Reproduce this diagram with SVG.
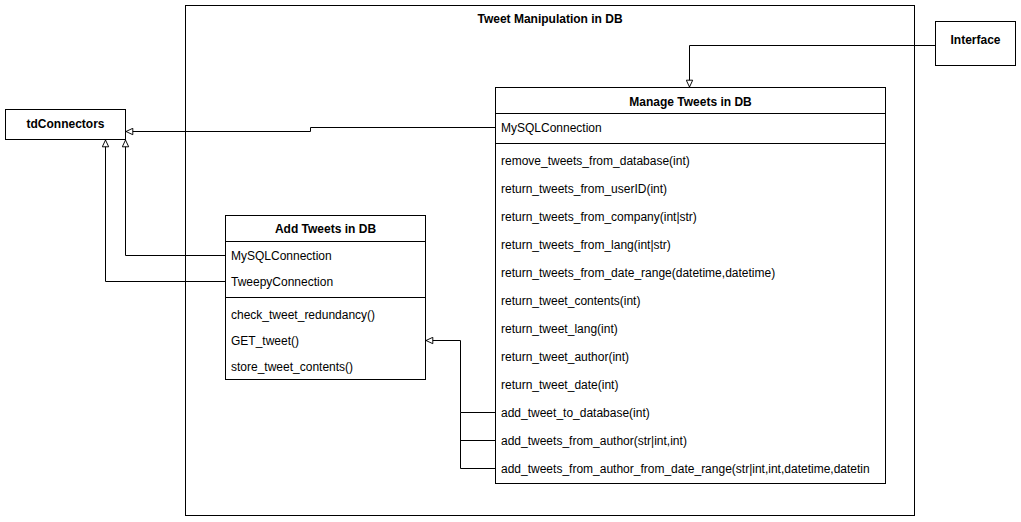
<svg xmlns="http://www.w3.org/2000/svg" width="1021" height="522" viewBox="0 0 1021 522">
<style>
.box{fill:#fff;stroke:#000;stroke-width:1}
.ln{fill:none;stroke:#000;stroke-width:1}
text{font-family:"Liberation Sans",Arial,sans-serif;font-size:12px;fill:#000}
.b{font-weight:bold;text-anchor:middle}
</style>
<defs>
<marker id="tri" viewBox="0 0 10 10" refX="9.5" refY="5" markerWidth="8" markerHeight="8" markerUnits="userSpaceOnUse" orient="auto">
<path d="M1,1 L9.5,5 L1,9 Z" fill="#fff" stroke="#000" stroke-width="1.2"/>
</marker>
</defs>
<rect width="1021" height="522" fill="#fff"/>
<g id="frame">
<rect class="box" x="185.5" y="5.5" width="729" height="510"/>
<text class="b" x="550" y="23">Tweet Manipulation in DB</text>
</g>
<g id="interface">
<rect class="box" x="935.5" y="21.5" width="80" height="44"/>
<text class="b" x="975.5" y="44">Interface</text>
</g>
<g id="tdConnectors">
<rect class="box" x="5.5" y="109.5" width="120" height="30"/>
<text class="b" x="65.5" y="128">tdConnectors</text>
</g>
<g id="manage">
<rect class="box" x="495.5" y="87.5" width="390" height="396"/>
<line class="ln" x1="495.5" y1="113.5" x2="885.5" y2="113.5"/>
<line class="ln" x1="495.5" y1="143.5" x2="885.5" y2="143.5"/>
<text class="b" x="690.5" y="106">Manage Tweets in DB</text>
<text x="501" y="132">MySQLConnection</text>
<text x="501" y="165">remove_tweets_from_database(int)</text>
<text x="501" y="193">return_tweets_from_userID(int)</text>
<text x="501" y="221">return_tweets_from_company(int|str)</text>
<text x="501" y="249">return_tweets_from_lang(int|str)</text>
<text x="501" y="277">return_tweets_from_date_range(datetime,datetime)</text>
<text x="501" y="305">return_tweet_contents(int)</text>
<text x="501" y="333">return_tweet_lang(int)</text>
<text x="501" y="361">return_tweet_author(int)</text>
<text x="501" y="389">return_tweet_date(int)</text>
<text x="501" y="417">add_tweet_to_database(int)</text>
<text x="501" y="445">add_tweets_from_author(str|int,int)</text>
<text x="501" y="473">add_tweets_from_author_from_date_range(str|int,int,datetime,datetin</text>
</g>
<g id="add">
<rect class="box" x="225.5" y="215.5" width="200" height="164"/>
<line class="ln" x1="225.5" y1="241.5" x2="425.5" y2="241.5"/>
<line class="ln" x1="225.5" y1="297.5" x2="425.5" y2="297.5"/>
<text class="b" x="325.5" y="233">Add Tweets in DB</text>
<text x="231" y="260">MySQLConnection</text>
<text x="231" y="286">TweepyConnection</text>
<text x="231" y="319">check_tweet_redundancy()</text>
<text x="231" y="345">GET_tweet()</text>
<text x="231" y="371">store_tweet_contents()</text>
</g>
<g id="connectors">
<path class="ln" d="M935,45.5 H689.5 V87" marker-end="url(#tri)"/>
<path class="ln" d="M495,127.5 H310.5 V131.5 H126" marker-end="url(#tri)"/>
<path class="ln" d="M225,255.5 H125.5 V140" marker-end="url(#tri)"/>
<path class="ln" d="M225,281.5 H105.5 V140" marker-end="url(#tri)"/>
<path class="ln" d="M495,412.5 H460.5 V340.5 H426" marker-end="url(#tri)"/>
<path class="ln" d="M495,440.5 H460.5"/>
<path class="ln" d="M495,468.5 H460.5 V412.5"/>
</g>
</svg>
